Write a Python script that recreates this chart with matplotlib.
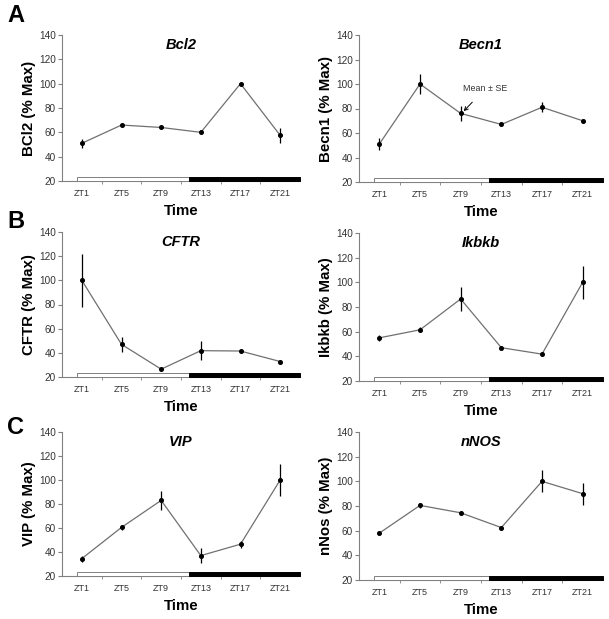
import matplotlib
matplotlib.use('Agg')
import matplotlib.pyplot as plt
from matplotlib.patches import Rectangle

plt.rcParams['font.family'] = ['Liberation Sans', 'DejaVu Sans']

times = ['ZT1', 'ZT5', 'ZT9', 'ZT13', 'ZT17', 'ZT21']

bcl2 = [51, 66, 64, 60, 100, 57.5]
bcl2_se = [3.5, 1, 1, 0.5, 0.5, 6]
becn1 = [51, 100, 76, 67, 81, 70]
becn1_se = [4.8, 8, 6.3, 0.5, 4, 0.5]
cftr = [100, 47, 26.5, 41.8, 41.5, 32.8]
cftr_se = [22, 6.5, 1, 7.8, 1.5, 0.5]
ikbkb = [55, 61.5, 86.5, 47, 41.8, 100]
ikbkb_se = [2.5, 2, 9.4, 0.5, 1.5, 13.5]
vip = [34.5, 60.5, 83, 37, 46.5, 100]
vip_se = [2.5, 2, 8, 6.5, 3, 13.5]
nnos = [58, 80.5, 74.5, 62.5, 100, 90]
nnos_se = [0.5, 2, 1, 0.5, 9, 9]

panels = [
    # (values, se, title, ylabel, left, top, bottom) in pixels
    (bcl2, bcl2_se, 'Bcl2', 'BCl2 (% Max)', 62, 35, 181),
    (becn1, becn1_se, 'Becn1', 'Becn1 (% Max)', 359, 35, 182),
    (cftr, cftr_se, 'CFTR', 'CFTR (% Max)', 62, 232, 377),
    (ikbkb, ikbkb_se, 'Ikbkb', 'Ikbkb (% Max)', 359, 233, 381),
    (vip, vip_se, 'VIP', 'VIP (% Max)', 62, 432, 576),
    (nnos, nnos_se, 'nNOS', 'nNos (% Max)', 359, 432, 580),
]

W, H = 609, 619
fig = plt.figure(figsize=(W / 100, H / 100), dpi=100)

axes = []
for vals, se, title, ylab, left, top, bottom in panels:
    width = 238 if left < 300 else 244
    ax = fig.add_axes([left / W, 1 - bottom / H, width / W, (bottom - top) / H])
    xs = [i + 0.5 for i in range(len(times))]
    ax.plot(xs, vals, color='#707070', lw=0.9, zorder=2)
    ax.errorbar(xs, vals, yerr=se, fmt='o', color='black', ms=2.6, elinewidth=0.9,
                capsize=0, zorder=3)
    ax.set_xlim(0, 6)
    ax.set_ylim(20, 140)
    ax.set_yticks(range(20, 141, 20))
    ax.set_xticks(xs)
    ax.set_xticklabels(times)
    ax.set_xticks(range(1, 6), minor=True)
    ax.tick_params(axis='x', which='major', length=0, labelsize=6.5, pad=6, labelcolor='#333333')
    ax.tick_params(axis='x', which='minor', length=2.5, color='#808080', direction='out')
    ax.tick_params(axis='y', length=3, labelsize=7.2, pad=1.5, color='#808080', labelcolor='#333333')
    for s in ['top', 'right']:
        ax.spines[s].set_visible(False)
    for s in ['left', 'bottom']:
        ax.spines[s].set_color('#808080')
        ax.spines[s].set_linewidth(0.8)
    # light / dark bar
    ax.add_patch(Rectangle((0.38, 20), 3.2 - 0.38, 3.6, facecolor='white', edgecolor='#808080',
                           lw=0.7, clip_on=False, zorder=4))
    ax.add_patch(Rectangle((3.2, 20), 6 - 3.2, 3.6, facecolor='black', edgecolor='black',
                           lw=0.7, clip_on=False, zorder=4))
    ax.text(0.5, 0.93, title, transform=ax.transAxes, ha='center', va='center',
            fontsize=10.5, fontweight='bold', style='italic')
    ax.set_ylabel(ylab, fontsize=10.8, fontweight='bold', labelpad=2)
    ax.set_xlabel('Time', fontsize=10.8, fontweight='bold', labelpad=4)
    axes.append(ax)

axes[1].annotate('Mean \u00b1 SE', xy=(2.55, 77), xytext=(3.1, 96), fontsize=6.4,
                 ha='center', va='center', color='#333333',
                 arrowprops=dict(arrowstyle='->', color='black', lw=0.7, shrinkA=6, shrinkB=1))

for letter, y in [('A', 15), ('B', 222), ('C', 427)]:
    fig.text(16 / W, 1 - y / H, letter, fontsize=17, fontweight='bold', ha='center', va='center')

fig.savefig('out.png', dpi=100)
